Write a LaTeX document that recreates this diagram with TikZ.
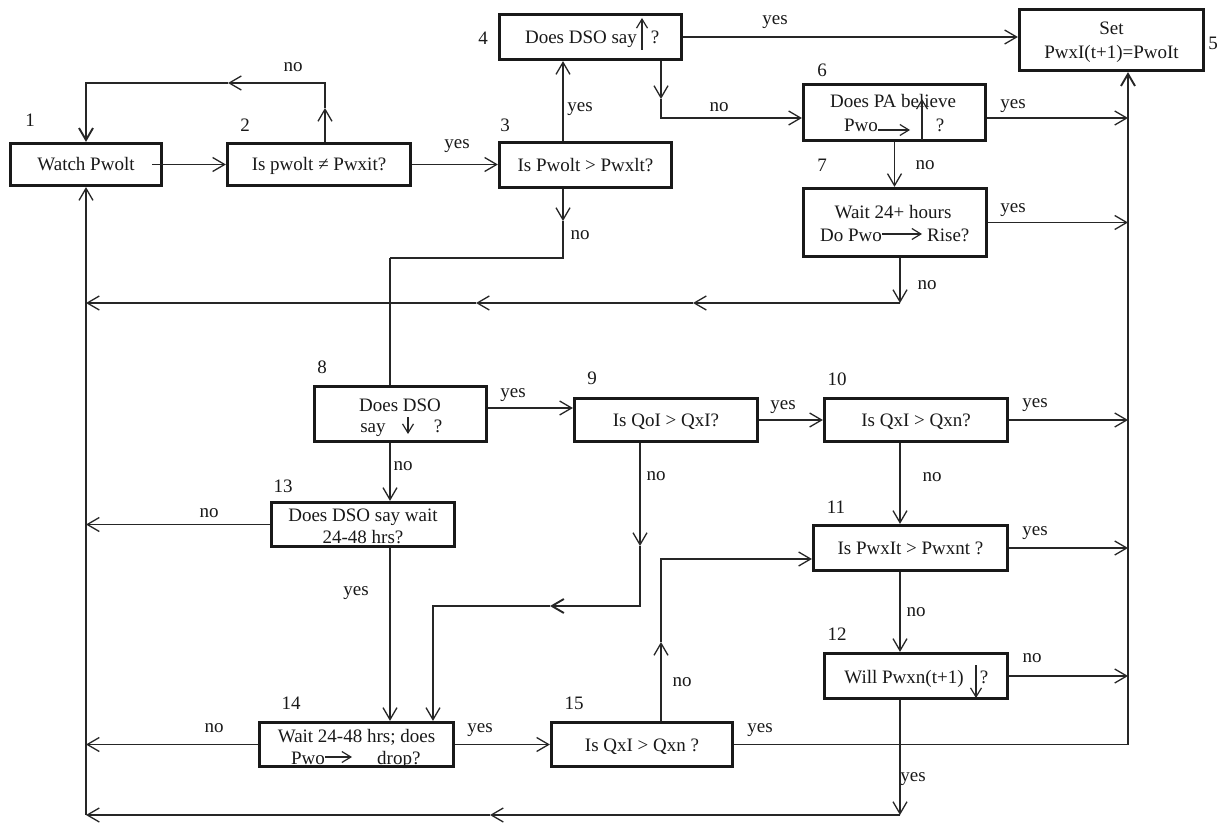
\documentclass[tikz,border=0pt]{standalone}
\usepackage{fontspec}
\setmainfont{Liberation Serif}
\usetikzlibrary{arrows.meta}
\begin{document}
\begin{tikzpicture}[x=1pt,y=-1pt,
  every node/.style={font=\fontsize{19}{23}\selectfont, text=black!90},
  box/.style={draw=black!90, line width=3.2pt, inner sep=0pt, text height=13pt, text depth=0pt},
  ln/.style={draw=black!85, line width=1.3pt},
  thk/.style={line width=1.9pt},
  arr/.style={ln, -{Straight Barb[length=12pt,width=14pt]}},
  inl/.style={draw=black!85, line width=1.2pt, -{Straight Barb[length=9pt,width=11pt]}},
  tx/.style={inner sep=0pt, anchor=base},
]
\fill[white] (0,0) rectangle (1221,824);
\useasboundingbox (0,0) rectangle (1221,824);

% ---------- boxes ----------
\node[box, minimum width=151pt, minimum height=42pt] (b1) at (86,164.5) {Watch Pwolt};
\node[box, minimum width=183pt, minimum height=42pt] (b2) at (319,164.5) {Is pwolt ≠ Pwxit?};
\node[box, minimum width=172pt, minimum height=45pt] (b3) at (585.5,165) {Is Pwolt > Pwxlt?};
\node[box, minimum width=182pt, minimum height=45pt] (b4) at (590.5,37) {};
\node[box, minimum width=184pt, minimum height=61pt] (b5) at (1111.5,40) {};
\node[box, minimum width=182pt, minimum height=56pt] (b6) at (894.5,112.5) {};
\node[box, minimum width=183pt, minimum height=68pt] (b7) at (895,222.5) {};
\node[box, minimum width=172pt, minimum height=55pt] (b8) at (400.5,414) {};
\node[box, minimum width=183pt, minimum height=43pt] (b9) at (666,420) {Is QoI > QxI?};
\node[box, minimum width=183pt, minimum height=43pt] (b10) at (916,420) {Is QxI > Qxn?};
\node[box, minimum width=194pt, minimum height=45pt] (b11) at (910.5,548) {Is PwxIt > Pwxnt ?};
\node[box, minimum width=183pt, minimum height=45pt] (b12) at (916,676) {};
\node[box, minimum width=183pt, minimum height=44pt] (b13) at (363,524.5) {};
\node[box, minimum width=194pt, minimum height=44pt] (b14) at (356.5,744.5) {};
\node[box, minimum width=181pt, minimum height=44pt] (b15) at (642,744.5) {Is QxI > Qxn ?};

% ---------- box texts with inline arrows ----------
\node[tx] (t4a) at (581,44) {Does DSO say};
\node[tx] (t4b) at (655,44) {?};
\draw[inl] (642,50) -- (642,18);

\node[tx] (t5a) at (1111.5,35) {Set};
\node[tx] (t5b) at (1111.5,59) {PwxI(t+1)=PwoIt};

\node[tx] (t6a) at (893,108) {Does PA believe};
\node[tx, anchor=base east] (t6b) at (878,132) {Pwo};
\node[tx] (t6c) at (940,132) {?};
\draw[inl] (878,130) -- (910,130);
\draw[inl] (922,140) -- (922,99);

\node[tx] (t7a) at (893,218) {Wait 24+ hours};
\node[tx, anchor=base east] (t7b) at (882,241) {Do Pwo};
\node[tx, anchor=base west] (t7c) at (927,241) {Rise?};
\draw[inl] (882,234) -- (922,234);

\node[tx] (t8a) at (400,411) {Does DSO};
\node[tx] (t8b) at (373,432) {say};
\node[tx] (t8c) at (438,432) {?};
\draw[inl] (408,417) -- (408,434);

\node[tx] (t12a) at (904,683) {Will Pwxn(t+1)};
\node[tx] (t12b) at (984,683) {?};
\draw[inl] (976,665) -- (976,698);

\node[tx] (t13a) at (363,521) {Does DSO say wait};
\node[tx] (t13b) at (363,543) {24-48 hrs?};

\node[tx] (t14a) at (356.5,742) {Wait 24-48 hrs; does};
\node[tx, anchor=base east] (t14b) at (325,764) {Pwo};
\node[tx, anchor=base west] (t14c) at (377,764) {drop?};
\draw[inl] (325,757) -- (352,757);

% ---------- step numbers ----------
\node[tx] (n1) at (30,126.5) {1};
\node[tx] (n2) at (245,131.5) {2};
\node[tx] (n3) at (505,131.5) {3};
\node[tx] (n4) at (483,44.5) {4};
\node[tx] (n5) at (1213,49.5) {5};
\node[tx] (n6) at (822,76.5) {6};
\node[tx] (n7) at (822,171.5) {7};
\node[tx] (n8) at (322,373.5) {8};
\node[tx] (n9) at (592,384.5) {9};
\node[tx] (n10) at (837,385.5) {10};
\node[tx] (n11) at (836,513.5) {11};
\node[tx] (n12) at (837,640.5) {12};
\node[tx] (n13) at (283,492.5) {13};
\node[tx] (n14) at (291,709.5) {14};
\node[tx] (n15) at (574,709.5) {15};

% ---------- branch labels ----------
\node[tx] (la1) at (293,71.5) {no};
\node[tx] (la2) at (457,148.5) {yes};
\node[tx] (la3) at (580,111.5) {yes};
\node[tx] (la4) at (775,24.5) {yes};
\node[tx] (la5) at (719,111.5) {no};
\node[tx] (la6) at (1013,108.5) {yes};
\node[tx] (la7) at (925,169.5) {no};
\node[tx] (la8) at (1013,212.5) {yes};
\node[tx] (la9) at (927,289.5) {no};
\node[tx] (la10) at (580,239.5) {no};
\node[tx] (la11) at (513,397.5) {yes};
\node[tx] (la12) at (403,470.5) {no};
\node[tx] (la13) at (656,480.5) {no};
\node[tx] (la14) at (783,409.5) {yes};
\node[tx] (la15) at (1035,407.5) {yes};
\node[tx] (la16) at (932,481.5) {no};
\node[tx] (la17) at (1035,535.5) {yes};
\node[tx] (la18) at (916,616.5) {no};
\node[tx] (la19) at (1032,662.5) {no};
\node[tx] (la20) at (913,781.5) {yes};
\node[tx] (la21) at (209,517.5) {no};
\node[tx] (la22) at (356,595.5) {yes};
\node[tx] (la23) at (214,732.5) {no};
\node[tx] (la24) at (480,732.5) {yes};
\node[tx] (la25) at (682,686.5) {no};
\node[tx] (la26) at (760,732.5) {yes};

% ---------- connectors ----------
\coordinate (lt) at (86,0);    % left return line
\coordinate (rt) at (1128,0);  % right collector line

% 1 -> 2
\draw[arr] ([xshift=-11pt]b1.east) -- (b2.west);
% 2 -> 3
\draw[arr] (b2.east) -- (b2.east -| b3.west);
% 2 no: back to 1
\coordinate (q1) at (325,108);
\coordinate (q2) at (228,83);
\draw[arr] (q1 |- b2.north) -- (q1);
\draw[arr] (q1) |- (q2);
\draw[arr,thk] (q2) -| (b1.north);
% 3 yes -> 4
\coordinate (q3) at (563,0);
\draw[arr] (q3 |- b3.north) -- (q3 |- b4.south);
% 4 yes -> 5
\draw[arr] (b4.east) -- (b4.east -| b5.west);
% 4 no -> 6
\coordinate (q4) at (661,99);
\coordinate (q5) at (661,118);
\draw[arr] (q4 |- b4.south) -- (q4);
\draw[arr] (q4) -- (q5) -- (q5 -| b6.west);
% 6 yes
\draw[arr] (b6.east |- q5) -- (q5 -| rt);
% 6 no -> 7
\draw[arr] (b6.south) -- (b6.south |- b7.north);
% 7 yes
\draw[arr] (b7.east) -- (b7.east -| rt);
% 7 no: back to the left
\coordinate (q6) at (900,303);
\coordinate (q7) at (693,303);
\coordinate (q8) at (476,303);
\draw[arr] (q6 |- b7.south) -- (q6);
\draw[arr] (q6) -- (q7);
\draw[arr] (q7) -- (q8);
\draw[arr] (q8) -- (q8 -| lt);
% 3 no -> 8
\coordinate (q9) at (563,221);
\coordinate (q10) at (390,258);
\draw[arr] (q9 |- b3.south) -- (q9);
\draw[ln,thk] (q9) |- (q10);
\draw[ln] (q10) -- (q10 |- b8.north);
% 8 yes -> 9
\coordinate (q11) at (0,408);
\draw[arr] (b8.east |- q11) -- (b9.west |- q11);
% 8 no -> 13
\coordinate (q12) at (390,0);
\draw[arr] (q12 |- b8.south) -- (q12 |- b13.north);
% 9 yes -> 10
\draw[arr] (b9.east) -- (b10.west);
% 9 no -> 14
\coordinate (q13) at (640,546);
\coordinate (q14) at (550,606);
\coordinate (q15) at (433,606);
\draw[arr] (q13 |- b9.south) -- (q13);
\draw[arr,thk] (q13) |- (q14);
\draw[arr] (q14) -- (q15) -- (q15 |- b14.north);
% 10 yes
\draw[arr] (b10.east) -- (b10.east -| rt);
% 10 no -> 11
\coordinate (q16) at (900,0);
\draw[arr] (q16 |- b10.south) -- (q16 |- b11.north);
% 11 yes
\draw[arr] (b11.east) -- (b11.east -| rt);
% 11 no -> 12
\draw[arr] (q16 |- b11.south) -- (q16 |- b12.north);
% 12 no
\draw[arr] (b12.east) -- (b12.east -| rt);
% 12 yes: back to the left
\coordinate (q17) at (900,815);
\coordinate (q18) at (490,815);
\draw[arr] (q17 |- b12.south) -- (q17);
\draw[arr] (q17) -- (q18);
\draw[arr] (q18) -- (q18 -| lt);
% 13 no / 13 yes
\draw[arr] (b13.west) -- (b13.west -| lt);
\draw[arr] (q12 |- b13.south) -- (q12 |- b14.north);
% 14 no / 14 yes
\draw[arr] (b14.west) -- (b14.west -| lt);
\draw[arr] (b14.east) -- (b15.west);
% 15 no -> 11
\coordinate (q19) at (661,642);
\coordinate (q20) at (661,559);
\draw[arr] (q19 |- b15.north) -- (q19);
\draw[arr] (q19) -- (q20) -- (q20 -| b11.west);
% 15 yes -> 5 via the collector line
\draw[arr,thk] (b15.east) -- (b15.east -| rt) -- (rt |- b5.south);
% left return line into 1
\draw[arr] (lt |- q17) -- (b1.south);
\end{tikzpicture}
\end{document}
